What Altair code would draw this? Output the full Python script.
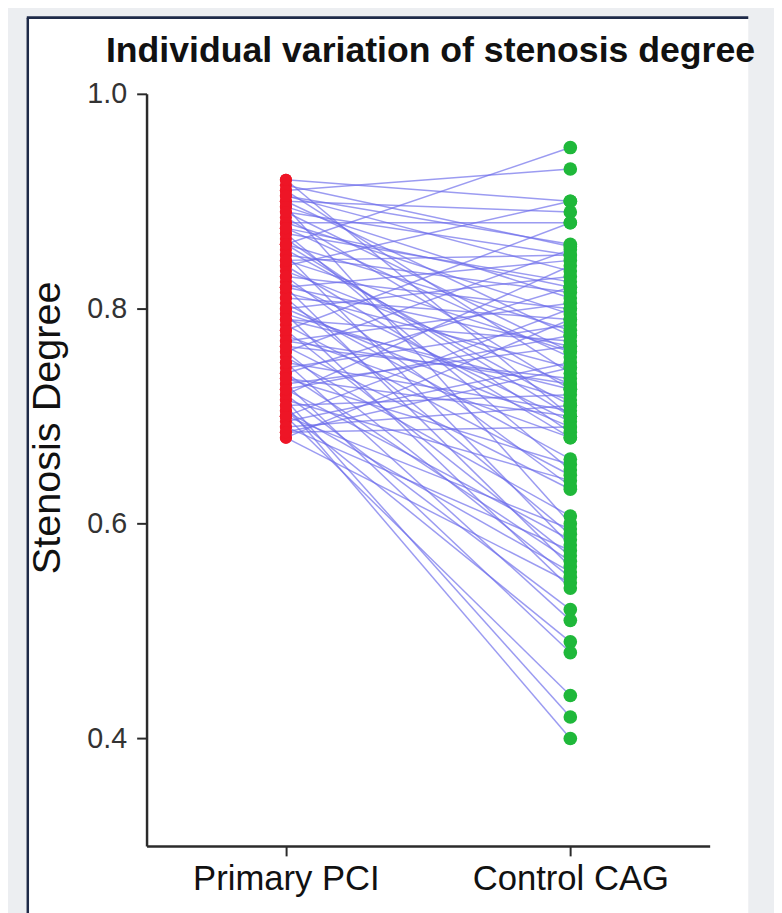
import altair as alt
import pandas as pd

groups = ["Primary PCI", "Control CAG"]
title_text = "Individual variation of stenosis degree"

pci = [0.86, 0.91, 0.92, 0.84, 0.90, 0.78, 0.88, 0.915, 0.76, 0.89,
       0.82, 0.72, 0.905, 0.80, 0.87, 0.74, 0.85, 0.895, 0.77, 0.83,
       0.70, 0.88, 0.81, 0.745, 0.86, 0.90, 0.79, 0.73, 0.845, 0.875,
       0.695, 0.815, 0.91, 0.765, 0.835, 0.885, 0.71, 0.795, 0.855, 0.75,
       0.92, 0.825, 0.685, 0.865, 0.775, 0.84, 0.805, 0.735, 0.87, 0.785,
       0.715, 0.83, 0.755, 0.895, 0.70, 0.81, 0.725, 0.85, 0.69, 0.78,
       0.74, 0.82, 0.705, 0.76, 0.68, 0.795, 0.72, 0.75, 0.705, 0.73,
       0.70, 0.715, 0.71, 0.68, 0.89, 0.77, 0.69, 0.86, 0.82, 0.875,
       0.725, 0.80, 0.765, 0.845, 0.79, 0.685, 0.905, 0.735]

cag = [0.95, 0.93, 0.90, 0.90, 0.89, 0.88, 0.88, 0.858, 0.855, 0.85,
       0.845, 0.84, 0.835, 0.83, 0.825, 0.82, 0.815, 0.81, 0.805, 0.80,
       0.80, 0.795, 0.79, 0.785, 0.78, 0.775, 0.77, 0.765, 0.76, 0.755,
       0.75, 0.745, 0.74, 0.735, 0.73, 0.725, 0.72, 0.715, 0.71, 0.705,
       0.70, 0.695, 0.69, 0.685, 0.68, 0.68, 0.66, 0.655, 0.65, 0.645,
       0.64, 0.635, 0.607, 0.60, 0.595, 0.59, 0.585, 0.58, 0.575, 0.57,
       0.565, 0.56, 0.555, 0.55, 0.545, 0.54, 0.52, 0.51, 0.49, 0.48,
       0.44, 0.42, 0.40, 0.79, 0.76, 0.73, 0.71, 0.70, 0.765, 0.82,
       0.775, 0.69, 0.632, 0.85, 0.725, 0.745, 0.86, 0.70]

rows = []
for i, (a, b) in enumerate(zip(pci, cag)):
    rows.append({"subject": i, "group": groups[0], "value": a})
    rows.append({"subject": i, "group": groups[1], "value": b})
df = pd.DataFrame(rows)

FONT = "Liberation Sans"
AX = "#2b2b2b"

x_enc = alt.X(
    "group:N",
    sort=groups,
    scale=alt.Scale(type="point", padding=0.49, domain=groups),
    axis=alt.Axis(
        title=None, labelAngle=0, labelFont=FONT, labelFontSize=35,
        labelColor="#111111", labelLimit=0, tickSize=10, tickWidth=2, tickColor=AX,
        domainColor=AX, domainWidth=2.5, labelPadding=6, grid=False, zindex=1,
    ),
)
y_enc = alt.Y(
    "value:Q",
    scale=alt.Scale(domain=[0.3, 1.0], nice=False, zero=False),
    axis=alt.Axis(
        values=[0.4, 0.6, 0.8, 1.0], format=".1f", title="Stenosis Degree",
        titleFont=FONT, titleFontSize=40, titleFontWeight="normal",
        titleColor="#111111", titleX=-100, titleY=337, titleAlign="center",
        titleBaseline="middle", labelFont=FONT, labelFontSize=29,
        labelColor="#333333", tickSize=10, tickWidth=2, tickColor=AX,
        domainColor=AX, domainWidth=2.5, labelPadding=10, grid=False, zindex=1,
    ),
)

one = pd.DataFrame({"label": [title_text]})
panel = alt.Chart(one).mark_rect(color="white").encode(
    x=alt.value(-120), x2=alt.value(608), y=alt.value(-76), y2=alt.value(830)
)
border_left = alt.Chart(one).mark_rule(color="#1e2a48", strokeWidth=2.5).encode(
    x=alt.value(-120), y=alt.value(-77), y2=alt.value(830)
)
border_top = alt.Chart(one).mark_rule(color="#1e2a48", strokeWidth=3).encode(
    x=alt.value(-121), x2=alt.value(608), y=alt.value(-77)
)
title = alt.Chart(one).mark_text(
    font=FONT, fontSize=36, fontWeight="bold", color="#111111",
    align="left", baseline="alphabetic",
).encode(x=alt.value(-41), y=alt.value(-32), text="label:N")

lines = alt.Chart(df).mark_line(color="#6c6cea", strokeWidth=1.5, opacity=0.68).encode(
    x=x_enc, y=y_enc, detail="subject:N"
)
points = alt.Chart(df).mark_circle(opacity=1).encode(
    x=x_enc,
    y=y_enc,
    color=alt.Color("group:N", scale=alt.Scale(domain=groups, range=["#ee1526", "#1fb83a"]), legend=None),
    size=alt.Size("group:N", scale=alt.Scale(domain=groups, range=[150, 190]), legend=None),
)

chart = alt.layer(panel, border_left, border_top, title, lines, points).properties(
    width=569,
    height=760,
    autosize="none",
    padding={"left": 140, "top": 82, "right": 65, "bottom": 63},
    background="#eceef1",
).configure_view(stroke=None)

chart.save("out.html", embed_options={"renderer": "svg", "actions": False})
